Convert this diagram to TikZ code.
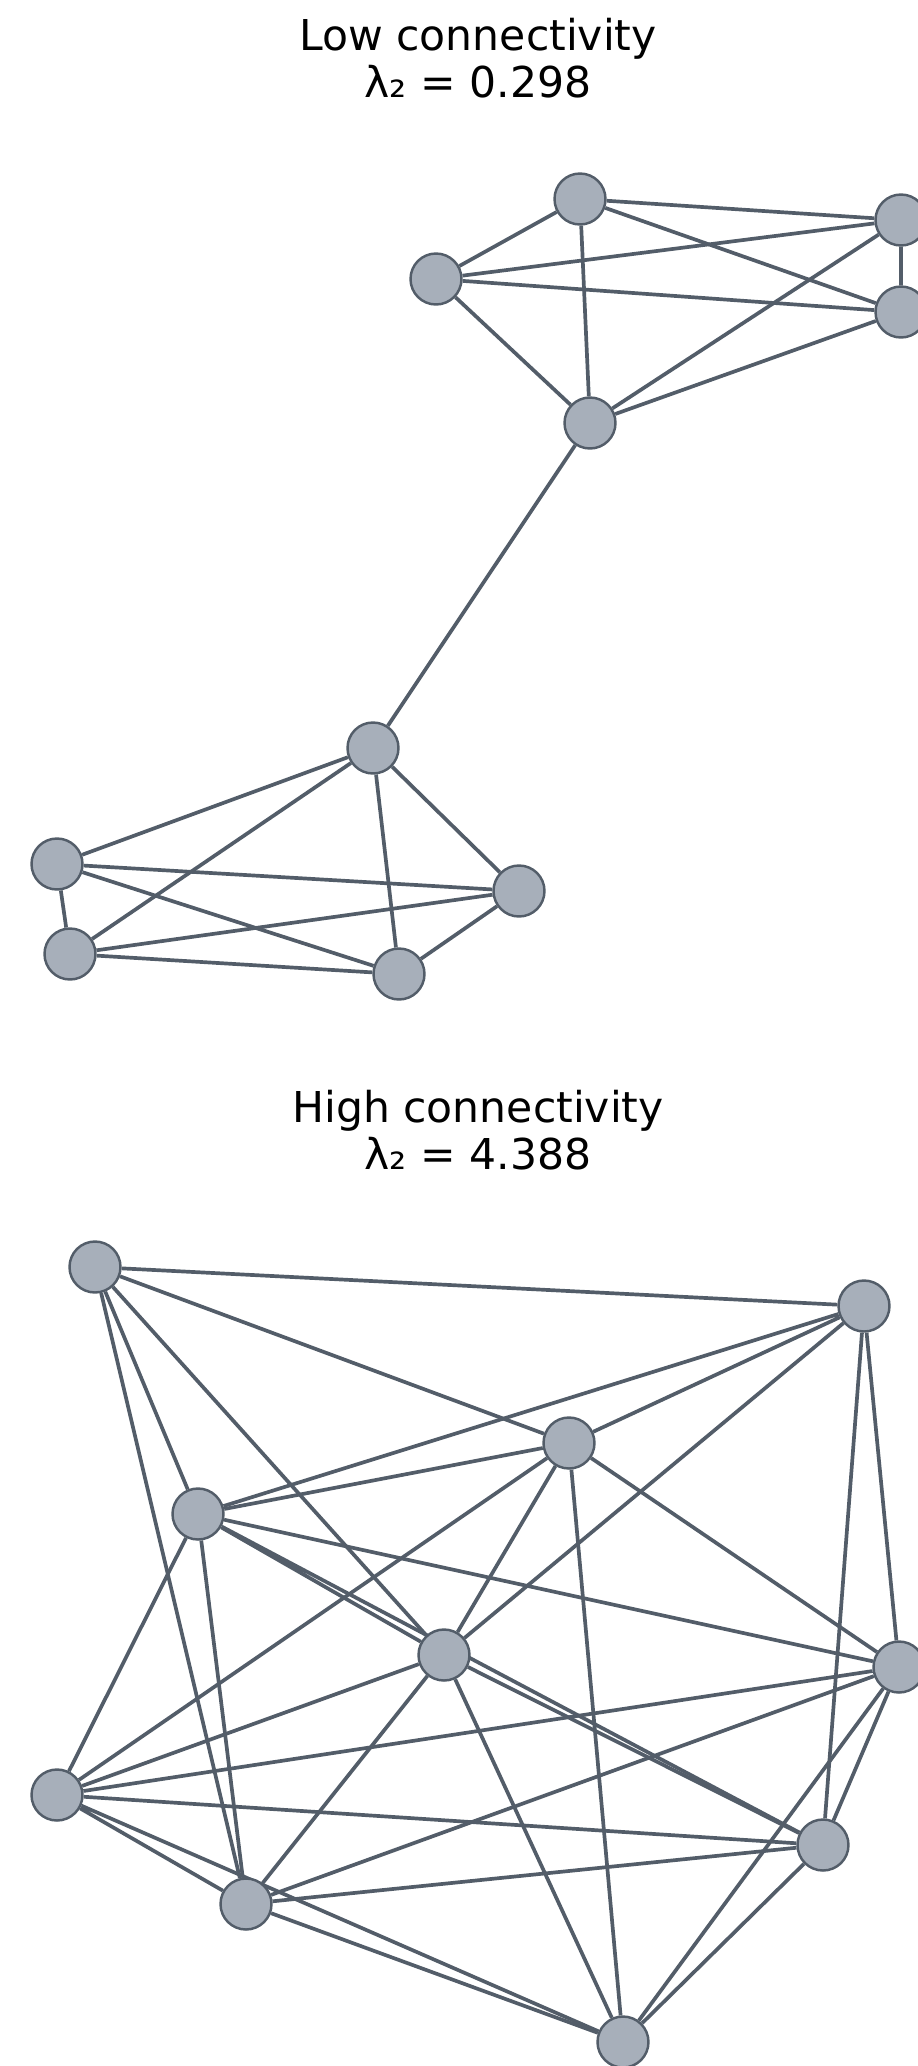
\documentclass[tikz,border=0pt]{standalone}
\usepackage{fontspec}
\setmainfont{DejaVu Sans}
\usepackage{xcolor}
\usetikzlibrary{backgrounds}
\definecolor{slate}{HTML}{535D69}
\definecolor{vfill}{HTML}{A7AFBA}
\tikzset{
  vert/.style={draw=slate, fill=vfill, circle, line width=1.4pt, minimum size=1.02cm, inner sep=0pt},
  link/.style={draw=slate, line width=2.1pt},
  ttl/.style={anchor=base, font=\fontsize{24.2}{28}\selectfont, text=black, inner sep=0pt}
}

\begin{document}
\begin{tikzpicture}[x=0.02cm, y=-0.02cm]
\useasboundingbox (0,0) rectangle (918,2066);
% titles
\node[ttl] (lowttl) at (478,50) {Low connectivity};
\node[ttl] (lowval) at (478,97) {λ₂ = 0.298};
\node[ttl] (highttl) at (478,1122) {High connectivity};
\node[ttl] (highval) at (478,1169) {λ₂ = 4.388};
% low connectivity graph
\node[vert] (lo1) at (580,199) {};
\node[vert] (lo2) at (436,279) {};
\node[vert] (lo3) at (901,220) {};
\node[vert] (lo4) at (901,312) {};
\node[vert] (lo5) at (590,423) {};
\node[vert] (lo6) at (373,748) {};
\node[vert] (lo7) at (57,864) {};
\node[vert] (lo8) at (519,891) {};
\node[vert] (lo9) at (70,954) {};
\node[vert] (lo10) at (399,974) {};
% high connectivity graph
\node[vert] (hi1) at (95,1267) {};
\node[vert] (hi2) at (864,1306) {};
\node[vert] (hi3) at (569,1443) {};
\node[vert] (hi4) at (198,1514) {};
\node[vert] (hi5) at (444,1655) {};
\node[vert] (hi6) at (899,1667) {};
\node[vert] (hi7) at (57,1795) {};
\node[vert] (hi8) at (823,1845) {};
\node[vert] (hi9) at (246,1904) {};
\node[vert] (hi10) at (623,2042) {};
\begin{scope}[on background layer]
% low: two cliques and a bridge
\draw[link] (lo1) -- (lo2) (lo1) -- (lo3) (lo1) -- (lo4) (lo1) -- (lo5);
\draw[link] (lo2) -- (lo3) (lo2) -- (lo4) (lo2) -- (lo5);
\draw[link] (lo3) -- (lo4) (lo3) -- (lo5) (lo4) -- (lo5);
\draw[link] (lo5) -- (lo6);
\draw[link] (lo6) -- (lo7) (lo6) -- (lo8) (lo6) -- (lo9) (lo6) -- (lo10);
\draw[link] (lo7) -- (lo8) (lo7) -- (lo9) (lo7) -- (lo10);
\draw[link] (lo8) -- (lo9) (lo8) -- (lo10) (lo9) -- (lo10);
% high
\draw[link] (hi1) -- (hi2) (hi1) -- (hi3) (hi1) -- (hi4) (hi1) -- (hi5) (hi1) -- (hi9);
\draw[link] (hi2) -- (hi3) (hi2) -- (hi4) (hi2) -- (hi5) (hi2) -- (hi6) (hi2) -- (hi8);
\draw[link] (hi3) -- (hi4) (hi3) -- (hi5) (hi3) -- (hi6) (hi3) -- (hi7) (hi3) -- (hi10);
\draw[link] (hi4) -- (hi5) (hi4) -- (hi6) (hi4) -- (hi7) (hi4) -- (hi8) (hi4) -- (hi9);
\draw[link] (hi5) -- (hi7) (hi5) -- (hi8) (hi5) -- (hi9) (hi5) -- (hi10);
\draw[link] (hi6) -- (hi7) (hi6) -- (hi8) (hi6) -- (hi9) (hi6) -- (hi10);
\draw[link] (hi7) -- (hi8) (hi7) -- (hi9) (hi7) -- (hi10);
\draw[link] (hi8) -- (hi9) (hi8) -- (hi10) (hi9) -- (hi10);
\end{scope}
\end{tikzpicture}
\end{document}
